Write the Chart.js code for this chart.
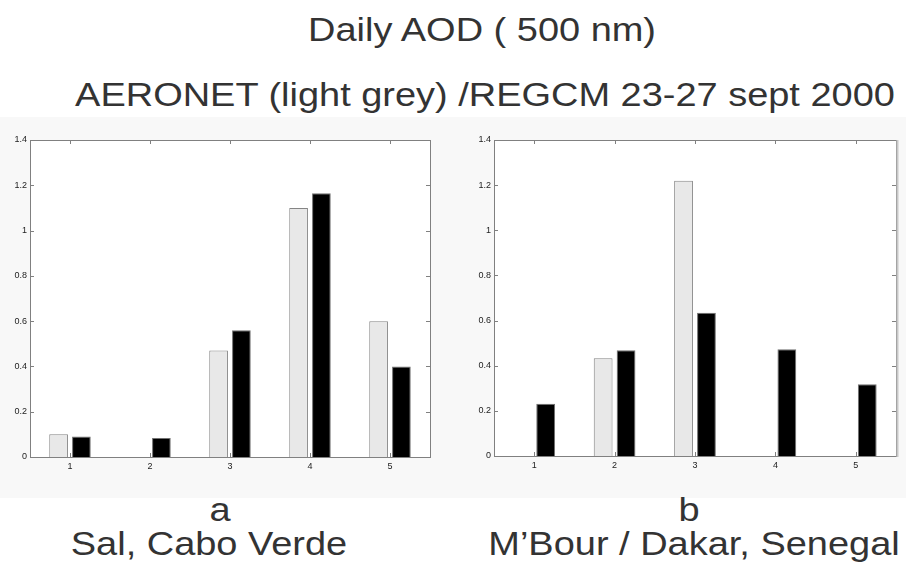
<!DOCTYPE html>
<html>
<head>
<meta charset="utf-8">
<script src="https://cdn.jsdelivr.net/npm/chart.js@4/dist/chart.umd.min.js"></script>
<style>
  html, body { margin: 0; padding: 0; background: #fff; overflow: hidden; }
  #page { position: relative; width: 906px; height: 563px; }
  #panel { position: absolute; left: 0; top: 117px; width: 906px; height: 381px; background: #f8f8f8; }
  .txt {
    position: absolute; width: 800px; text-align: center; white-space: nowrap;
    font-family: "Liberation Sans", Arial, sans-serif; font-size: 33px; line-height: 33px;
    color: #333; transform: scaleX(1.15); transform-origin: center;
  }
  canvas { position: absolute; }
</style>
</head>
<body>
<div id="page">
  <div id="panel"></div>
  <div class="txt" style="left:82px; top:13px;">Daily AOD ( 500 nm)</div>
  <div class="txt" style="left:85px; top:78px;">AERONET (light grey) /REGCM 23-27 sept 2000</div>
  <div style="position:absolute; left:0; top:125px; width:453px; height:360px;"><canvas id="chartA"></canvas></div>
  <div style="position:absolute; left:453px; top:125px; width:453px; height:360px;"><canvas id="chartB"></canvas></div>
  <div class="txt" style="left:-180px; top:493px;">a</div>
  <div class="txt" style="left:-191px; top:527px;">Sal, Cabo Verde</div>
  <div class="txt" style="left:289px; top:493px;">b</div>
  <div class="txt" style="left:294px; top:527px;">M’Bour / Dakar, Senegal</div>
</div>
<script>
// days 23-27 sept 2000
var days = ['1', '2', '3', '4', '5'];
var yTicks = [0, 0.2, 0.4, 0.6, 0.8, 1, 1.2, 1.4];

// a : Sal, Cabo Verde
var salAeronet = [0.10, null, 0.47, 1.10, 0.60];
var salRegcm   = [0.09, 0.084, 0.56, 1.165, 0.40];

// b : M'Bour / Dakar, Senegal
var mbourAeronet = [null, 0.433, 1.22, null, null];
var mbourRegcm   = [0.232, 0.468, 0.635, 0.473, 0.318];

// matlab-like box with inward ticks
var boxTicks = {
    id: 'boxTicks',
    beforeDatasetsDraw: function (chart) {
        var a = chart.chartArea, ctx = chart.ctx;
        ctx.save();
        ctx.fillStyle = '#ffffff';
        ctx.fillRect(a.left, a.top, a.right - a.left, a.bottom - a.top);
        ctx.restore();
    },
    afterDatasetsDraw: function (chart, args, opts) {
        var a = chart.chartArea, ctx = chart.ctx;
        var x = chart.scales.x, y = chart.scales.y;
        ctx.save();
        ctx.strokeStyle = '#808080';
        ctx.lineWidth = 1;
        ctx.beginPath();
        x.ticks.forEach(function (t, i) {
            var px = Math.round(x.getPixelForTick(i)) + 0.5;
            ctx.moveTo(px, a.top); ctx.lineTo(px, a.top + 4);
            ctx.moveTo(px, a.bottom); ctx.lineTo(px, a.bottom - 4);
        });
        y.ticks.forEach(function (t) {
            var py = Math.round(y.getPixelForValue(t.value)) + 0.5;
            ctx.moveTo(a.left, py); ctx.lineTo(a.left + 4, py);
            ctx.moveTo(a.right, py); ctx.lineTo(a.right - 4, py);
        });
        ctx.stroke();
        ctx.strokeRect(Math.round(a.left) + 0.5, Math.round(a.top) + 0.5,
            Math.round(a.right - a.left), Math.round(a.bottom - a.top));
        if (opts.thickRight) {
            ctx.strokeStyle = '#c8c8c8';
            ctx.lineWidth = 2;
            ctx.beginPath();
            ctx.moveTo(a.right + 1.5, a.top);
            ctx.lineTo(a.right + 1.5, a.bottom + 1);
            ctx.stroke();
        }
        ctx.restore();
    }
};

function makeChart(id, aeronet, regcm, yWidth, rightPad, xHeight, thickRight) {
    var ctx = document.getElementById(id).getContext('2d');
    return new Chart(ctx, {
        type: 'bar',
        data: {
            labels: days,
            datasets: [{
                label: 'AERONET',
                data: aeronet,
                backgroundColor: '#e8e8e8',
                borderColor: '#858585',
                borderWidth: 1
            }, {
                label: 'REGCM',
                data: regcm,
                backgroundColor: '#000000',
                borderColor: '#707070',
                borderWidth: 1
            }]
        },
        options: {
            responsive: true,
            maintainAspectRatio: false,
            animation: false,
            categoryPercentage: 0.57,
            barPercentage: 0.82,
            layout: { padding: { left: 0, top: 15, right: rightPad, bottom: 0 } },
            plugins: {
                legend: { display: false },
                tooltip: { enabled: false },
                boxTicks: { thickRight: thickRight }
            },
            scales: {
                x: {
                    offset: true,
                    grid: { display: false, drawTicks: false },
                    border: { display: false },
                    ticks: { color: '#222', padding: 4, font: { family: 'Liberation Sans', size: 9 } },
                    afterFit: function (s) { s.height = xHeight; }
                },
                y: {
                    min: 0,
                    max: 1.4,
                    grid: { display: false, drawTicks: false },
                    border: { display: false },
                    afterBuildTicks: function (s) {
                        s.ticks = yTicks.map(function (v) { return { value: v }; });
                    },
                    ticks: {
                        color: '#222', padding: 3, font: { family: 'Liberation Sans', size: 9 },
                        callback: function (v) { return String(Number(v.toFixed(1))); }
                    },
                    afterFit: function (s) { s.width = yWidth; }
                }
            }
        },
        plugins: [boxTicks]
    });
}

makeChart('chartA', salAeronet, salRegcm, 30, 23, 28, false);
makeChart('chartB', mbourAeronet, mbourRegcm, 41, 10, 29, true);
</script>
</body>
</html>
